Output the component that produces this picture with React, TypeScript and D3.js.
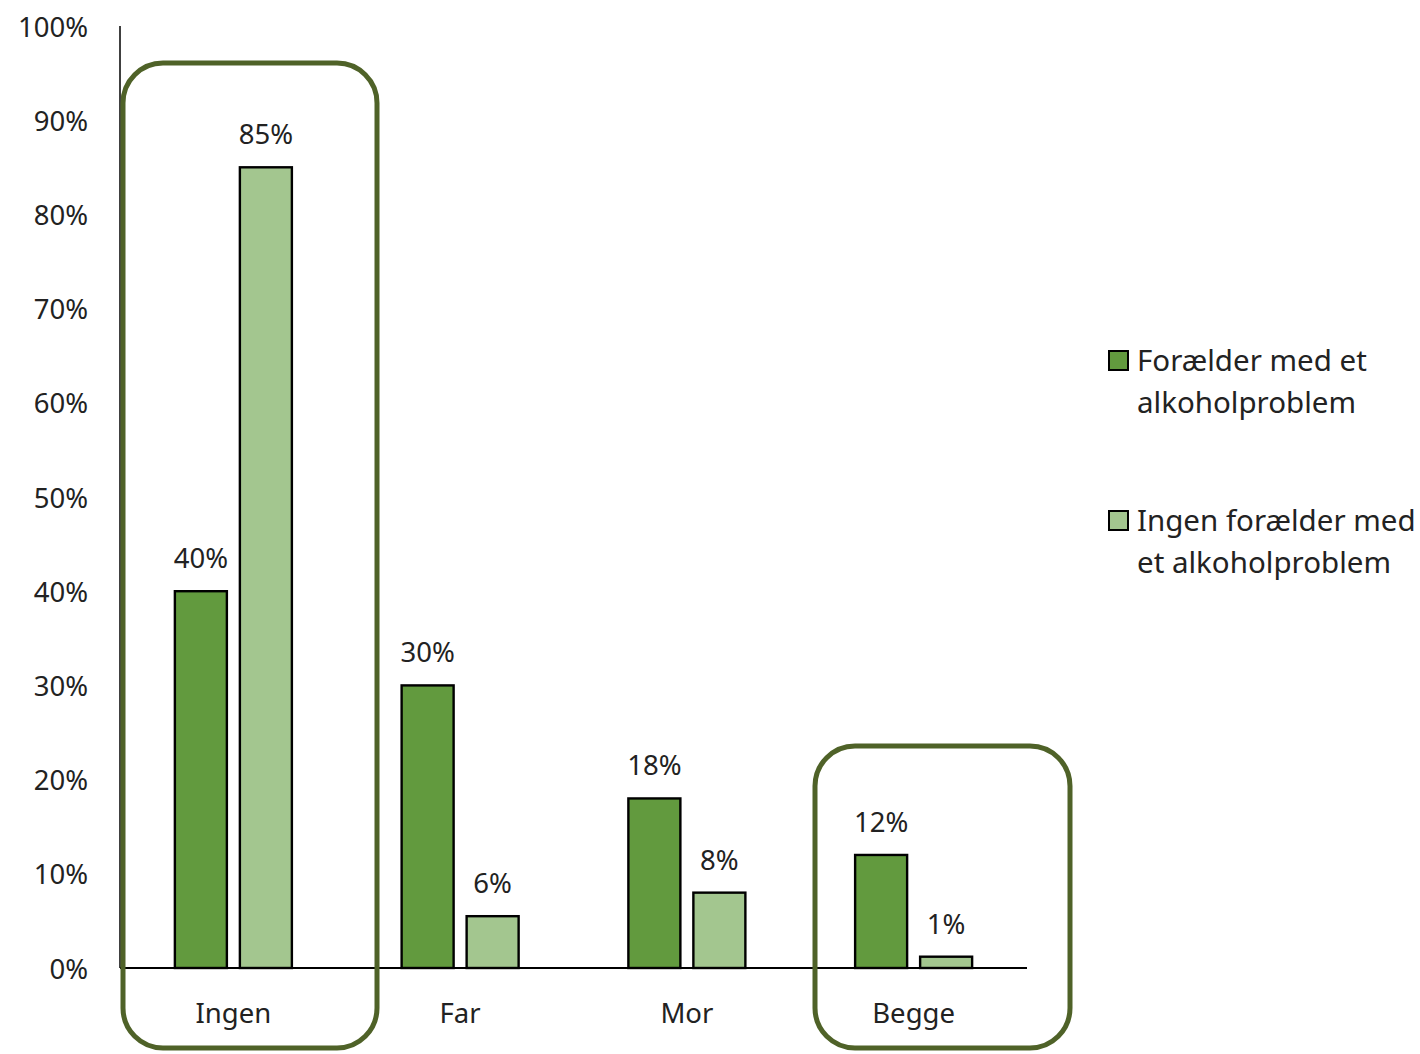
import React from "react";
import * as d3 from "d3";

const categories = ["Ingen", "Far", "Mor", "Begge"];
const seriesNames = ["Forælder med et alkoholproblem", "Ingen forælder med et alkoholproblem"];
const withProblem = [40, 30, 18, 12];
const withoutProblem = [85, 5.5, 8, 1.2];
const valueLabelsWith = ["40%", "30%", "18%", "12%"];
const valueLabelsWithout = ["85%", "6%", "8%", "1%"];
const yTicks = [0, 10, 20, 30, 40, 50, 60, 70, 80, 90, 100];
const legendLines = [["Forælder med et", "alkoholproblem"], ["Ingen forælder med", "et alkoholproblem"]];
const highlighted = ["Ingen", "Begge"];

const colors = ["#629a3e", "#a3c68f"];
const boxColor = "#4f6228";
const font = "'Noto Sans', 'Open Sans', sans-serif";

export default function App() {
  const W = 1420, H = 1054;
  const x0 = 120, x1 = 1027, yTop = 26, yBot = 968;
  const x = d3.scaleBand<string>().domain(categories).range([x0, x1]).paddingInner(0).paddingOuter(0);
  const y = d3.scaleLinear().domain([0, 100]).range([yBot, yTop]);
  const barW = 52;
  const gap = 13;
  const series = [withProblem, withoutProblem];
  const labels = [valueLabelsWith, valueLabelsWithout];

  return (
    <svg width={W} height={H} style={{ position: "absolute", left: 0, top: 0, background: "#fff" }} fontFamily={font}>
      {/* y axis */}
      <line x1={x0} x2={x0} y1={yTop} y2={yBot} stroke="#000" strokeWidth={1.5} />
      {yTicks.map((t) => (
        <text key={t} x={88} y={y(t)} textAnchor="end" dominantBaseline="central" fontSize={27.5} fill="#222">
          {t}%
        </text>
      ))}
      {/* bars */}
      {categories.map((c, i) => {
        const cx = (x(c) as number) + x.bandwidth() / 2;
        return series.map((s, k) => {
          const bx = k === 0 ? cx - gap / 2 - barW : cx + gap / 2;
          const top = y(s[i]);
          return (
            <g key={c + k}>
              <rect x={bx} y={top} width={barW} height={yBot - top} fill={colors[k]} stroke="#000" strokeWidth={2.4} />
              <text x={bx + barW / 2} y={top - 23} textAnchor="middle" fontSize={27.5} fill="#222">
                {labels[k][i]}
              </text>
            </g>
          );
        });
      })}
      {/* x axis */}
      <line x1={x0} x2={x1} y1={yBot} y2={yBot} stroke="#000" strokeWidth={2} />
      {categories.map((c) => (
        <text key={c} x={(x(c) as number) + x.bandwidth() / 2} y={1023} textAnchor="middle" fontSize={27.5} fill="#222">
          {c}
        </text>
      ))}
      {/* highlight boxes */}
      {highlighted.map((c) => {
        const isFirst = c === categories[0];
        const top = isFirst ? 63 : 746;
        const left = isFirst ? 123 : 815;
        const right = isFirst ? 377 : 1070;
        return (
          <rect key={c} x={left} y={top} width={right - left} height={1048 - top} rx={40} ry={40}
            fill="none" stroke={boxColor} strokeWidth={5} />
        );
      })}
      {/* legend */}
      {legendLines.map((lines, k) => {
        const base = k === 0 ? 371 : 531;
        return (
          <g key={k}>
            <rect x={1109} y={base - 20} width={19} height={19} fill={colors[k]} stroke="#000" strokeWidth={2} />
            {lines.map((ln, j) => (
              <text key={j} x={1137} y={base + j * 42} fontSize={29.5} fill="#222">
                {ln}
              </text>
            ))}
            <title>{seriesNames[k]}</title>
          </g>
        );
      })}
    </svg>
  );
}
